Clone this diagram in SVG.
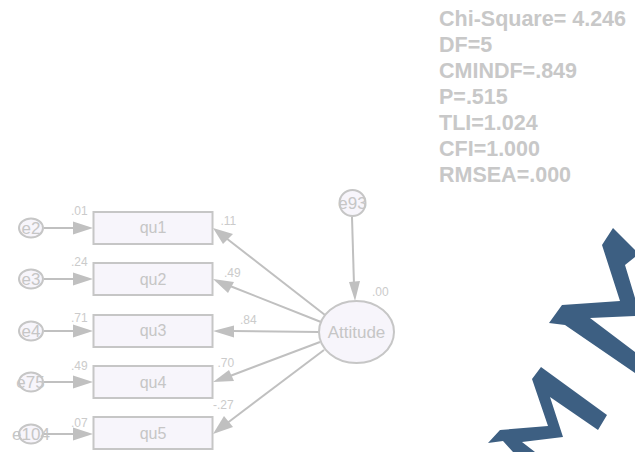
<svg xmlns="http://www.w3.org/2000/svg" width="635" height="452" viewBox="0 0 635 452">
<style>
.n{fill:#f7f5fb;stroke:#c6c6c6;stroke-width:2}
.l{font:16px "Liberation Sans",Arial,sans-serif;fill:#c6c6c6;text-anchor:middle}
.e{font:17px "Liberation Sans",Arial,sans-serif;fill:#c6c6c6;text-anchor:middle}
.v{font:12px "Liberation Sans",Arial,sans-serif;fill:#cbcbcb}
.s{font:bold 21.500px "Liberation Sans",Arial,sans-serif;fill:#c8c8c8}
.c line{stroke:#c0c0c0;stroke-width:2;fill:none}
.c polygon{fill:#c0c0c0}
</style>
<rect width="635" height="452" fill="#fff"/>
<g id="fit"><text class="s" x="439" y="26">Chi-Square= 4.246</text><text class="s" x="439" y="52">DF=5</text><text class="s" x="439" y="78">CMINDF=.849</text><text class="s" x="439" y="104">P=.515</text><text class="s" x="439" y="130">TLI=1.024</text><text class="s" x="439" y="156">CFI=1.000</text><text class="s" x="439" y="182">RMSEA=.000</text></g>
<g id="watermark" fill="#3d5f82">
<polygon points="613,228 635,250 635,257 625,265 635,298 635,316 590,318 635,352 635,373 565,325 549,323 562,305 620,301 602,245"/>
<polygon points="541,367 607,415 598,430 550,397 563,437 522,442 535,452 513,452 503,441 488,443 500,430 548,426 532,379"/>
</g>
<g id="connectors" class="c">
<line x1="44" y1="228" x2="75" y2="228"/><polygon points="93,228 73,221.500 73,234.500"/>
<line x1="44" y1="279" x2="75" y2="279"/><polygon points="93,279 73,272.500 73,285.500"/>
<line x1="44" y1="331" x2="75" y2="331"/><polygon points="93,331 73,324.500 73,337.500"/>
<line x1="44" y1="382" x2="75" y2="382"/><polygon points="93,382 73,375.500 73,388.500"/>
<line x1="44" y1="434" x2="75" y2="434"/><polygon points="93,434 73,427.500 73,440.500"/>
<line x1="352" y1="217" x2="354" y2="285"/><polygon points="355,301 349,282 360,281"/>
<line x1="325" y1="315" x2="226" y2="238"/><polygon points="213,228 233,234 223,244"/>
<line x1="321" y1="322" x2="230" y2="286"/><polygon points="213,279 234,282 228,293"/>
<line x1="319" y1="332" x2="232" y2="331"/><polygon points="213,331 234,325.500 234,337.500"/>
<line x1="320" y1="342" x2="230" y2="376"/><polygon points="213,382 229,370 234,381"/>
<line x1="324" y1="350" x2="226" y2="424"/><polygon points="213,434 224,416 233,427"/>
</g>
<g id="e2"><ellipse class="n" cx="31" cy="228" rx="12" ry="9.500"/><text class="e" x="31" y="234">e2</text></g>
<g id="e3"><ellipse class="n" cx="31" cy="279" rx="12" ry="9.500"/><text class="e" x="31" y="285">e3</text></g>
<g id="e4"><ellipse class="n" cx="31" cy="331" rx="12" ry="9.500"/><text class="e" x="31" y="337">e4</text></g>
<g id="e75"><ellipse class="n" cx="31" cy="382" rx="12" ry="9.500"/><text class="e" x="30.500" y="388">e75</text></g>
<g id="e104"><ellipse class="n" cx="31" cy="434" rx="12" ry="9.500"/><text class="e" x="31" y="440">e104</text></g>
<g id="qu1"><rect class="n" x="93.500" y="212" width="119" height="32"/><text class="l" x="153" y="233">qu1</text></g>
<g id="qu2"><rect class="n" x="93.500" y="263" width="119" height="32"/><text class="l" x="153" y="285">qu2</text></g>
<g id="qu3"><rect class="n" x="93.500" y="315" width="119" height="32"/><text class="l" x="153" y="336">qu3</text></g>
<g id="qu4"><rect class="n" x="93.500" y="366" width="119" height="32"/><text class="l" x="153" y="388">qu4</text></g>
<g id="qu5"><rect class="n" x="93.500" y="417" width="119" height="32"/><text class="l" x="153" y="439">qu5</text></g>
<g id="e93"><circle class="n" cx="352.500" cy="203" r="13"/><text class="e" x="352.500" y="209">e93</text></g>
<g id="Attitude"><ellipse class="n" cx="356.500" cy="332" rx="37.500" ry="31"/><text class="e" x="356.500" y="338">Attitude</text></g>
<g id="values"><text class="v" x="71" y="215">.01</text><text class="v" x="71" y="266">.24</text><text class="v" x="71" y="322">.71</text><text class="v" x="71" y="370">.49</text><text class="v" x="71" y="427">.07</text><text class="v" x="220.500" y="225">.11</text><text class="v" x="224" y="277">.49</text><text class="v" x="240" y="324">.84</text><text class="v" x="217.500" y="367">.70</text><text class="v" x="213" y="409">-.27</text><text class="v" x="372" y="296">.00</text></g>
</svg>
